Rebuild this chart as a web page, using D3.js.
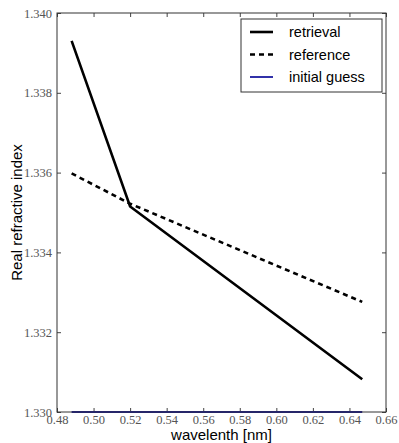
<!DOCTYPE html>
<html>
<head>
<meta charset="utf-8">
<script src="https://cdn.jsdelivr.net/npm/d3@7"></script>
<style>
  body { margin: 0; background: #fff; }
  svg { display: block; }
</style>
</head>
<body>
<svg id="chart"></svg>
<script>
// values
const wavelength = [0.488, 0.520, 0.647];
const retrieval = [1.3393, 1.33515, 1.33082];
const reference = [1.33598, 1.33522, 1.33276];
const initialGuess = [1.3300, 1.3300, 1.3300];
const xTicks = [0.48, 0.50, 0.52, 0.54, 0.56, 0.58, 0.60, 0.62, 0.64, 0.66];
const yTicks = [1.330, 1.332, 1.334, 1.336, 1.338, 1.340];

const series = [
  { name: "retrieval", values: retrieval, color: "#000", width: 2.6, dash: null },
  { name: "reference", values: reference, color: "#000", width: 2.6, dash: "5,4" },
  { name: "initial guess", values: initialGuess, color: "#1a1aa0", width: 1.8, dash: null }
];

const W = 399, H = 443;
const margin = { top: 13, right: 13, bottom: 31, left: 57 };
const width = W - margin.left - margin.right;
const height = H - margin.top - margin.bottom;

const svg = d3.select("#chart").attr("width", W).attr("height", H);
const g = svg.append("g").attr("transform", "translate(" + margin.left + "," + margin.top + ")");

const x = d3.scaleLinear().domain([0.48, 0.66]).range([0, width]);
const y = d3.scaleLinear().domain([1.330, 1.340]).range([height, 0]);

const tickFont = "Liberation Serif";
const labelFont = "Liberation Sans";

// axes, ticks pointing inward
const styleAxis = sel => {
  sel.attr("font-family", tickFont).attr("font-size", 12.5);
  sel.select(".domain").remove();
  sel.selectAll("line").attr("stroke", "#444");
  sel.selectAll("text").attr("fill", "#555");
};

g.append("g").attr("transform", "translate(0," + height + ")")
  .call(d3.axisBottom(x).tickValues(xTicks).tickFormat(d3.format(".2f")).tickSizeInner(-4).tickSizeOuter(0).tickPadding(3))
  .call(styleAxis);
g.append("g")
  .call(d3.axisTop(x).tickValues(xTicks).tickFormat("").tickSizeInner(-4).tickSizeOuter(0))
  .call(styleAxis);
g.append("g")
  .call(d3.axisLeft(y).tickValues(yTicks).tickFormat(d3.format(".3f")).tickSizeInner(-4).tickSizeOuter(0).tickPadding(5))
  .call(styleAxis);
g.append("g").attr("transform", "translate(" + width + ",0)")
  .call(d3.axisRight(y).tickValues(yTicks).tickFormat("").tickSizeInner(-4).tickSizeOuter(0))
  .call(styleAxis);

// lines
const line = d3.line().x((d, i) => x(wavelength[i])).y(d => y(d));
series.forEach(s => {
  g.append("path")
    .datum(s.values)
    .attr("fill", "none")
    .attr("stroke", s.color)
    .attr("stroke-width", s.width)
    .attr("stroke-dasharray", s.dash)
    .attr("d", line);
});

// frame
g.append("rect").attr("width", width).attr("height", height)
  .attr("fill", "none").attr("stroke", "#333").attr("stroke-width", 1);

// legend
const legend = g.append("g").attr("transform", "translate(" + (width - 145) + ",6)");
legend.append("rect").attr("width", 141).attr("height", 73)
  .attr("fill", "#fff").attr("stroke", "#333").attr("stroke-width", 1);
series.forEach((s, i) => {
  const ly = 13 + i * 22.5;
  legend.append("line")
    .attr("x1", 9).attr("x2", 32).attr("y1", ly).attr("y2", ly)
    .attr("stroke", s.color).attr("stroke-width", s.width)
    .attr("stroke-dasharray", s.dash);
  legend.append("text")
    .attr("x", 48).attr("y", ly).attr("dy", "0.35em")
    .attr("font-family", labelFont)
    .attr("font-size", 14.5)
    .text(s.name);
});

// axis labels
svg.append("text")
  .attr("x", margin.left + width / 2).attr("y", H - 3)
  .attr("text-anchor", "middle")
  .attr("font-family", labelFont)
  .attr("font-size", 15)
  .text("wavelenth [nm]");
svg.append("text")
  .attr("transform", "translate(17," + (margin.top + height / 2) + ") rotate(-90)")
  .attr("text-anchor", "middle")
  .attr("dy", "0.35em")
  .attr("font-family", labelFont)
  .attr("font-size", 15)
  .text("Real refractive index");
</script>
</body>
</html>
